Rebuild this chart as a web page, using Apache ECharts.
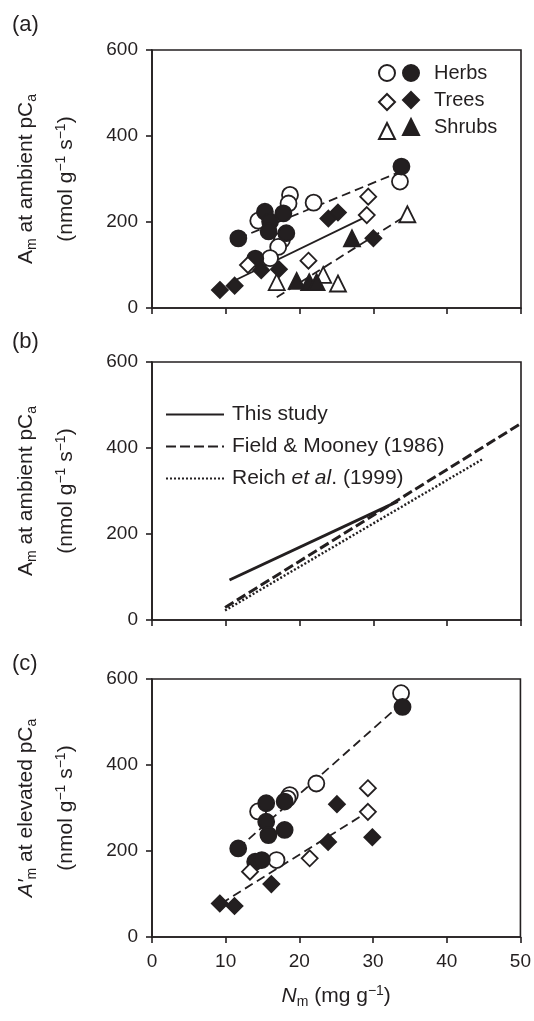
<!DOCTYPE html>
<html>
<head>
<meta charset="utf-8">
<script src="https://cdn.jsdelivr.net/npm/echarts@6/dist/echarts.min.js"></script>
<style>
  html, body { margin: 0; padding: 0; background: #fff; }
  #chart { width: 534px; height: 1021px; }
</style>
</head>
<body>
<div id="chart"></div>
<script>
// ---- data: [N_m (mg g-1), rate (nmol g-1 s-1)] ----
// panel (a): A_m at ambient pCa
const herbsOpenA = [[18.7, 263], [18.5, 243], [21.9, 245], [14.4, 203], [17.6, 158], [17.1, 142], [16.0, 116], [33.6, 294]];
const herbsFilledA = [[11.7, 162], [15.3, 224], [17.8, 220], [16.0, 201], [15.8, 178], [18.2, 174], [14.0, 115], [33.8, 329]];
const treesOpenA = [[29.3, 259], [29.1, 216], [21.2, 110], [13.0, 100]];
const treesFilledA = [[9.2, 42], [11.2, 52], [14.8, 88], [17.2, 90], [23.9, 208], [25.2, 222], [30.0, 162]];
const shrubsOpenA = [[16.9, 60], [23.2, 77], [25.2, 57], [34.6, 218]];
const shrubsFilledA = [[19.6, 63], [21.3, 60], [22.3, 60], [27.1, 162]];
const herbFitA = [[11.7, 162], [33.8, 318]];
const allFitA = [[10.5, 58], [29.1, 213]];
const shrubFitA = [[16.9, 25], [33.8, 208]];

// panel (b): comparison of regressions
const thisStudy = [[10.5, 93], [33.3, 276]];
const fieldMooney = [[9.9, 29], [50, 457]];
const reich = [[9.9, 22], [44.9, 375]];

// panel (c): A'_m at elevated pCa
const herbsOpenC = [[33.8, 567], [22.3, 357], [18.7, 330], [18.4, 322], [14.4, 292], [16.9, 179]];
const herbsFilledC = [[34.0, 535], [11.7, 206], [15.5, 311], [18.0, 315], [15.5, 268], [15.8, 237], [18.0, 249], [14.0, 175], [14.9, 179]];
const treesOpenC = [[29.3, 346], [29.3, 291], [21.4, 183], [13.3, 152]];
const treesFilledC = [[9.2, 78], [11.2, 72], [16.2, 123], [23.9, 221], [25.1, 309], [29.9, 232]];
const herbFitC = [[11.7, 206], [34.0, 545]];
const treeFitC = [[9.4, 78], [29.3, 291]];

const ink = '#231f20';
const font = 'Liberation Sans, Arial, Helvetica, sans-serif';

const rich = {
  b: { fontSize: 21, lineHeight: 25, color: ink },
  i: { fontSize: 21, lineHeight: 25, fontStyle: 'italic', color: ink },
  sub: { fontSize: 14, lineHeight: 14, verticalAlign: 'bottom', color: ink },
  sup: { fontSize: 14, lineHeight: 14, verticalAlign: 'top', color: ink }
};
const legendRich = {
  b: { fontSize: 21, color: ink },
  i: { fontSize: 21, fontStyle: 'italic', color: ink }
};

const gridTops = [50, 362, 679];
const gridH = 258;

const grids = gridTops.map(t => ({
  left: 152, right: 13, top: t, height: gridH,
  show: true, borderColor: ink, borderWidth: 1.6, backgroundColor: 'transparent'
}));

const xAxes = [0, 1, 2].map(i => ({
  type: 'value', gridIndex: i, min: 0, max: 50, interval: 10,
  axisLine: { lineStyle: { color: ink, width: 1.6 } },
  axisTick: { show: true, length: 6, lineStyle: { color: ink, width: 1.6 } },
  axisLabel: { show: i === 2, fontSize: 19, color: ink, margin: 15 },
  splitLine: { show: false },
  name: i === 2 ? '{i|N}{sub|m}{b| (mg g}{sup|−1}{b|)}' : '',
  nameLocation: 'middle', nameGap: 47,
  nameTextStyle: { rich: rich }
}));

const line1 = [
  '{b|A}{sub|m}{b| at ambient pC}{sub|a}',
  '{b|A}{sub|m}{b| at ambient pC}{sub|a}',
  '{i|A′}{sub|m}{b| at elevated pC}{sub|a}'
];
const line2 = '{b|(nmol g}{sup|−1}{b| s}{sup|−1}{b|)}';

const yAxes = [];
[0, 1, 2].forEach(i => {
  yAxes.push({
    type: 'value', gridIndex: i, min: 0, max: 600, interval: 200, position: 'left',
    axisLine: { show: true, lineStyle: { color: ink, width: 1.6 } },
    axisTick: { show: true, length: 6, lineStyle: { color: ink, width: 1.6 } },
    axisLabel: { fontSize: 19, color: ink, margin: 14 },
    splitLine: { show: false },
    name: line2, nameLocation: 'middle', nameRotate: 90, nameGap: 73,
    nameTextStyle: { rich: rich }
  });
  yAxes.push({
    type: 'value', gridIndex: i, min: 0, max: 600, interval: 200, position: 'left',
    axisLine: { show: false }, axisTick: { show: false }, axisLabel: { show: false },
    splitLine: { show: false },
    name: line1[i], nameLocation: 'middle', nameRotate: 90, nameGap: 113,
    nameTextStyle: { rich: rich }
  });
});

function pts(name, data, symbol, filled, gi) {
  return {
    name: name, type: 'scatter', xAxisIndex: gi, yAxisIndex: gi * 2,
    data: data, symbol: symbol, symbolSize: 16,
    itemStyle: { color: filled ? ink : '#fff', borderColor: ink, borderWidth: 1.8, opacity: 1 },
    z: 3
  };
}

function fit(name, data, gi, type, width) {
  return {
    name: name, type: 'line', xAxisIndex: gi, yAxisIndex: gi * 2,
    data: data, symbol: 'none', silent: true,
    itemStyle: { color: ink },
    lineStyle: { color: ink, width: width, type: type },
    z: 2
  };
}

const series = [
  fit('fitA1', herbFitA, 0, [9, 5], 1.8),
  fit('fitA2', allFitA, 0, 'solid', 1.8),
  fit('fitA3', shrubFitA, 0, [9, 5], 1.8),
  pts('Herbs open', herbsOpenA, 'circle', false, 0),
  pts('Herbs', herbsFilledA, 'circle', true, 0),
  pts('Trees open', treesOpenA, 'diamond', false, 0),
  pts('Trees', treesFilledA, 'diamond', true, 0),
  pts('Shrubs open', shrubsOpenA, 'triangle', false, 0),
  pts('Shrubs', shrubsFilledA, 'triangle', true, 0),

  fit('This study', thisStudy, 1, 'solid', 3),
  fit('Field & Mooney (1986)', fieldMooney, 1, [10, 4], 3),
  fit('Reich et al. (1999)', reich, 1, [2, 2], 2.4),

  fit('fitC1', herbFitC, 2, [9, 5], 1.8),
  fit('fitC2', treeFitC, 2, [9, 5], 1.8),
  pts('c herbs open', herbsOpenC, 'circle', false, 2),
  pts('c herbs', herbsFilledC, 'circle', true, 2),
  pts('c trees open', treesOpenC, 'diamond', false, 2),
  pts('c trees', treesFilledC, 'diamond', true, 2)
];

const chart = echarts.init(document.getElementById('chart'), null, { renderer: 'canvas' });
chart.setOption({
  animation: false,
  backgroundColor: '#fff',
  textStyle: { fontFamily: font, color: ink },
  title: [
    { text: '(a)', left: 7, top: 9 },
    { text: '(b)', left: 7, top: 326 },
    { text: '(c)', left: 7, top: 648 }
  ].map(t => Object.assign(t, { textStyle: { fontSize: 22, fontWeight: 'normal', color: ink, fontFamily: font } })),
  legend: [
    {
      left: 373, top: 59, orient: 'vertical', itemWidth: 16, itemHeight: 16, itemGap: 11,
      data: ['Herbs open', 'Trees open', 'Shrubs open'],
      formatter: () => '', selectedMode: false
    },
    {
      left: 397, top: 58, orient: 'vertical', itemWidth: 16, itemHeight: 16, itemGap: 7,
      data: ['Herbs', 'Trees', 'Shrubs'], selectedMode: false,
      textStyle: { fontSize: 20, lineHeight: 20, color: ink, padding: [0, 0, 0, 10] }
    },
    {
      left: 160, top: 399, orient: 'vertical', itemWidth: 58, itemHeight: 14, itemGap: 11,
      data: ['This study', 'Field & Mooney (1986)', 'Reich et al. (1999)'], selectedMode: false,
      itemStyle: { opacity: 0 },
      formatter: name => name === 'Reich et al. (1999)' ? '{b|Reich }{i|et al}{b|. (1999)}' : '{b|' + name + '}',
      textStyle: { fontSize: 21, color: ink, padding: [0, 0, 0, 3], rich: legendRich }
    }
  ],
  grid: grids,
  xAxis: xAxes,
  yAxis: yAxes,
  series: series
});
</script>
</body>
</html>
